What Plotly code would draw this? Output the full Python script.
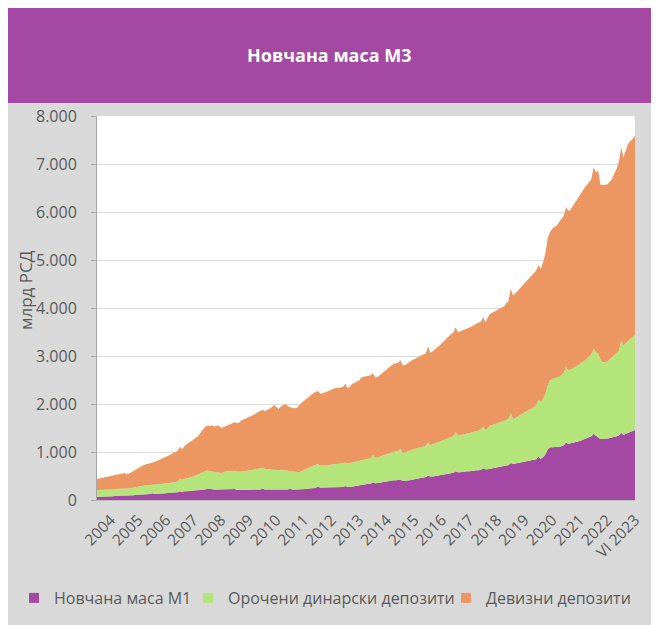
import plotly.graph_objects as go

# ---- data (bn RSD), monthly XII 2003 .. VI 2023 ----
m1 = [70,
      70, 70, 70, 80, 80, 80, 80, 90, 90, 90, 90, 100,
      90, 90, 100, 100, 110, 110, 120, 120, 120, 120, 130, 140,
      130, 130, 130, 140, 140, 140, 150, 150, 150, 160, 160, 180,
      170, 180, 180, 190, 190, 200, 200, 210, 210, 220, 220, 240,
      230, 230, 220, 220, 220, 220, 220, 220, 230, 220, 220, 230,
      210, 210, 210, 210, 220, 220, 220, 220, 220, 220, 220, 240,
      220, 220, 220, 220, 220, 220, 230, 230, 220, 220, 220, 240,
      220, 220, 220, 220, 230, 230, 230, 240, 240, 250, 250, 280,
      260, 260, 260, 260, 270, 270, 270, 270, 270, 270, 270, 290,
      270, 270, 280, 280, 290, 300, 310, 320, 330, 340, 340, 370,
      350, 350, 360, 370, 380, 390, 400, 410, 410, 410, 410, 420,
      400, 400, 400, 410, 420, 430, 440, 450, 460, 470, 480, 510,
      490, 490, 500, 510, 520, 530, 540, 550, 560, 560, 570, 600,
      580, 580, 590, 590, 600, 600, 610, 610, 620, 620, 630, 660,
      640, 640, 650, 660, 670, 680, 690, 700, 710, 720, 730, 770,
      750, 760, 770, 780, 790, 800, 810, 820, 830, 840, 850, 900,
      860, 890, 950, 1050, 1100, 1100, 1100, 1110, 1110, 1120, 1140, 1200,
      1170, 1180, 1190, 1200, 1220, 1230, 1250, 1270, 1290, 1310, 1330, 1380,
      1330, 1300, 1270, 1270, 1280, 1280, 1290, 1300, 1310, 1330, 1350, 1400,
      1360, 1380, 1400, 1420, 1440, 1460]

# level of M1 + dinar time deposits (top of green band)
m1_plus_dinar = [210,
      210, 210, 220, 220, 220, 220, 220, 230, 230, 230, 230, 240,
      230, 240, 250, 260, 270, 270, 280, 290, 300, 310, 310, 320,
      320, 330, 330, 340, 340, 350, 350, 360, 360, 370, 380, 450,
      420, 440, 450, 470, 480, 490, 510, 530, 550, 570, 590, 620,
      600, 590, 580, 570, 570, 560, 580, 600, 610, 600, 600, 610,
      590, 590, 600, 600, 610, 610, 620, 630, 640, 650, 660, 670,
      650, 640, 640, 630, 630, 620, 620, 630, 630, 620, 610, 610,
      600, 590, 590, 580, 600, 630, 650, 670, 690, 710, 720, 750,
      720, 720, 720, 730, 730, 740, 740, 750, 750, 760, 760, 780,
      760, 770, 780, 790, 800, 810, 830, 840, 850, 860, 880, 930,
      880, 880, 900, 920, 940, 950, 970, 990, 1000, 1010, 1020, 1070,
      980, 990, 1010, 1030, 1050, 1070, 1080, 1090, 1100, 1120, 1130, 1200,
      1140, 1160, 1180, 1200, 1220, 1240, 1260, 1280, 1300, 1310, 1330, 1410,
      1340, 1350, 1360, 1370, 1380, 1390, 1400, 1410, 1430, 1450, 1470, 1530,
      1460, 1500, 1550, 1560, 1580, 1600, 1620, 1640, 1650, 1660, 1700, 1800,
      1690, 1710, 1740, 1770, 1800, 1830, 1860, 1880, 1900, 1930, 1970, 2090,
      2040, 2100, 2210, 2380, 2490, 2520, 2540, 2550, 2560, 2600, 2650, 2770,
      2700, 2720, 2740, 2770, 2800, 2830, 2870, 2900, 2940, 2980, 3030, 3150,
      3080, 3050, 2920, 2870, 2870, 2880, 2930, 2980, 3030, 3080, 3110, 3310,
      3220, 3270, 3320, 3360, 3400, 3430]

# M3 total (top of orange band)
m3_total = [440,
      450, 460, 470, 480, 490, 500, 510, 520, 530, 540, 550, 560,
      530, 550, 580, 610, 640, 670, 700, 720, 740, 750, 760, 780,
      790, 810, 830, 850, 870, 890, 920, 950, 980, 1000, 1020, 1110,
      1050, 1120, 1160, 1190, 1220, 1260, 1300, 1330, 1400, 1470, 1520, 1550,
      1540, 1550, 1530, 1540, 1550, 1500, 1520, 1550, 1570, 1580, 1600, 1620,
      1600, 1620, 1660, 1680, 1700, 1720, 1740, 1770, 1800, 1830, 1850, 1880,
      1850, 1870, 1900, 1930, 1980, 1940, 1900, 1950, 1980, 2000, 1960, 1930,
      1920, 1910, 1920, 1960, 2020, 2070, 2100, 2140, 2180, 2220, 2250, 2270,
      2220, 2220, 2240, 2260, 2280, 2300, 2320, 2340, 2330, 2350, 2360, 2420,
      2330, 2360, 2420, 2440, 2460, 2490, 2550, 2570, 2580, 2590, 2600, 2640,
      2550, 2560, 2600, 2640, 2680, 2720, 2770, 2800, 2840, 2850, 2860, 2910,
      2800, 2810, 2850, 2880, 2910, 2930, 2960, 2980, 3010, 3030, 3050, 3200,
      3060, 3100, 3150, 3180, 3220, 3270, 3320, 3380, 3430, 3460, 3490, 3600,
      3500, 3510, 3530, 3550, 3570, 3590, 3610, 3640, 3670, 3700, 3720, 3810,
      3700, 3800, 3880, 3900, 3930, 3960, 3990, 4010, 4030, 4080, 4150, 4400,
      4260, 4300, 4360, 4420, 4480, 4520, 4570, 4620, 4670, 4720, 4780, 4890,
      4820, 4950, 5130, 5450, 5580, 5650, 5680, 5720, 5790, 5850, 5920, 6100,
      6020, 6050, 6120, 6200, 6270, 6350, 6420, 6500, 6570, 6620, 6680, 6930,
      6830, 6860, 6570, 6560, 6570, 6580, 6630, 6690, 6800, 6900, 7040, 7350,
      7140, 7300, 7420, 7480, 7520, 7590]

tick_labels = ["2004", "2005", "2006", "2007", "2008", "2009", "2010", "2011",
               "2012", "2013", "2014", "2015", "2016", "2017", "2018", "2019",
               "2020", "2021", "2022", "VI 2023"]
tick_month_offset = 6          # June of each year (index 0 = XII 2003)
series_names = ["Новчана маса М1", "Орочени динарски депозити", "Девизни депозити"]
colors = ["#A349A4", "#B3E57A", "#EC9662"]

dinar_deposits = [b - a for a, b in zip(m1, m1_plus_dinar)]
fx_deposits = [c - b for b, c in zip(m1_plus_dinar, m3_total)]

x = list(range(len(m1)))
tickvals = [tick_month_offset + 12 * k for k in range(len(tick_labels))]

TEXT = "#595959"
FONT = "Open Sans"

W, H = 659, 625
L, R, T, B = 89, 32, 108, 133
pw, ph = W - L - R, H - T - B

legend_ids = ["legend", "legend2", "legend3"]
legend_left_px = [6, 180, 438]

fig = go.Figure()
for name, vals, col, lid in zip(series_names, [m1, dinar_deposits, fx_deposits], colors, legend_ids):
    fig.add_trace(go.Scatter(x=x, y=vals, name=name, stackgroup="one", mode="lines",
                             line=dict(width=0, color=col), fillcolor=col,
                             showlegend=False))
    fig.add_trace(go.Scatter(x=[None], y=[None], name=name, mode="markers",
                             marker=dict(symbol="square", size=10, color=col),
                             showlegend=True, legend=lid))


def px(xp):
    return (xp - L) / pw


def py(yp):
    return (H - B - yp) / ph


shapes = [
    dict(type="rect", xref="paper", yref="paper", x0=px(0), x1=px(W), y0=py(95), y1=py(0),
         fillcolor="#A349A4", line=dict(width=0), layer="below"),
]

legend_style = dict(orientation="h", xref="container", yref="container",
                    xanchor="left", yanchor="middle",
                    font=dict(size=16, color=TEXT, family=FONT),
                    bgcolor="rgba(0,0,0,0)", borderwidth=0, itemwidth=30)
legends = {}
for lid, lx in zip(legend_ids, legend_left_px):
    legends[lid] = dict(legend_style, x=lx / W, y=1 - 590 / H)

fig.update_layout(
    width=W, height=H,
    margin=dict(l=L, r=R, t=T, b=B, autoexpand=False),
    paper_bgcolor="#D9D9D9",
    plot_bgcolor="white",
    separators=",.",
    font=dict(family=FONT, color=TEXT, size=15),
    shapes=shapes,
    showlegend=True,
    annotations=[
        dict(text="<b>Новчана маса М3</b>", xref="paper", yref="paper", x=px(321), y=py(47),
             xanchor="center", yanchor="middle", showarrow=False,
             font=dict(size=18, color="white", family=FONT)),
        dict(text="млрд РСД", xref="paper", yref="paper", x=px(17), y=py(282),
             xanchor="center", yanchor="middle", textangle=-90, showarrow=False,
             font=dict(size=17, color=TEXT, family=FONT)),
    ],
    **legends,
)

fig.update_xaxes(range=[0, len(m1) - 1], tickvals=tickvals, ticktext=tick_labels,
                 tickangle=-45, showgrid=False, showline=True, linecolor="#BFBFBF",
                 linewidth=1, ticks="", tickfont=dict(size=15.5, color=TEXT), zeroline=False,
                 ticklabelstandoff=4)
fig.update_yaxes(range=[0, 8000], dtick=1000, tickformat=",d", showgrid=True,
                 gridcolor="#D9D9D9", gridwidth=1, showline=True, linecolor="#A6A6A6",
                 ticks="outside", ticklen=5, tickcolor="#A6A6A6", zeroline=False,
                 tickfont=dict(size=16, color=TEXT), ticklabelstandoff=11)

fig.write_html("out.html")
